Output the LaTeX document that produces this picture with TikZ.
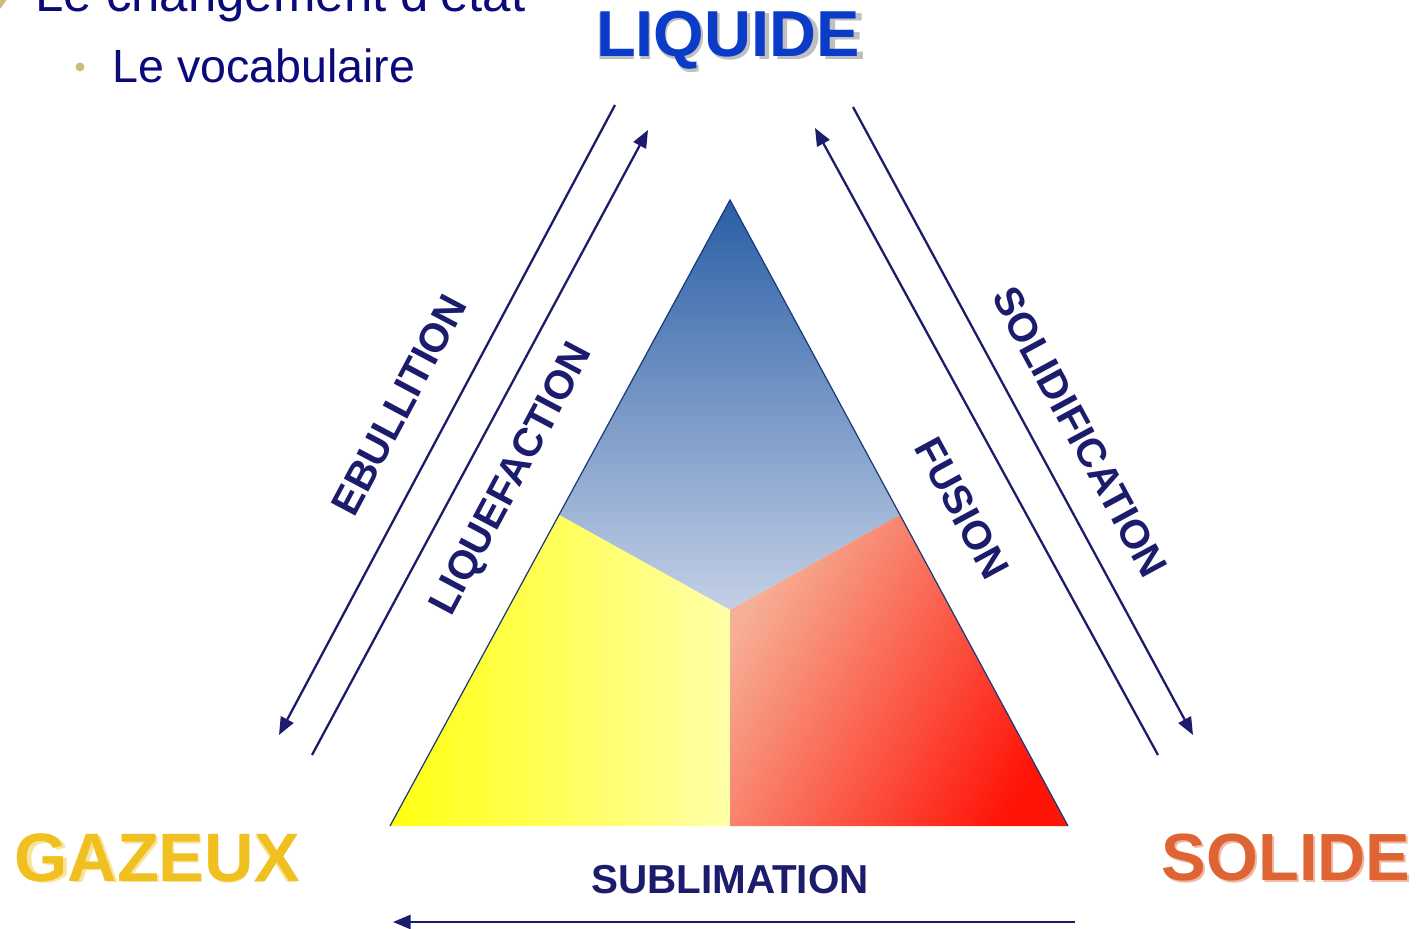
\documentclass[tikz,border=0pt]{standalone}
\usepackage{fontspec}
\setmainfont{Liberation Sans}
\usetikzlibrary{arrows.meta,calc}
\definecolor{navy}{HTML}{1B1C6C}
\definecolor{titlenavy}{HTML}{0A0A7A}
\definecolor{bullet}{HTML}{C8C078}
\definecolor{liqblue}{HTML}{0A3CC8}
\definecolor{gazgold}{HTML}{F0C020}
\definecolor{solred}{HTML}{DE6434}
\definecolor{bluetop}{HTML}{2A5EA6}
\definecolor{bluebot}{HTML}{C4D0E6}
\definecolor{yelA}{HTML}{FFFF10}
\definecolor{yelB}{HTML}{FFFFA8}
\definecolor{redA}{HTML}{F6B096}
\definecolor{redB}{HTML}{FF1408}
\definecolor{edge}{HTML}{1A3A7A}
\tikzset{
  arr/.style={draw=navy, line width=1.3pt, -{Triangle[length=10pt,width=8pt]}},
  proc/.style={text=navy, font=\fontsize{23}{23}\selectfont\bfseries, inner sep=0pt},
  state/.style={font=\fontsize{38}{38}\selectfont\bfseries, inner sep=0pt},
  stateshadow/.style={state, text=black!25},
}
\begin{document}
\begin{tikzpicture}[x=0.02cm, y=-0.02cm]
\useasboundingbox (0,0) rectangle (1423,929);
\fill[white] (0,0) rectangle (1423,929);

% header
\fill[bullet] (0,-2) -- (8,-2) -- (0,9) -- cycle;
\node[anchor=base west, text=titlenavy, font=\fontsize{29}{29}\selectfont, inner sep=0pt] (title) at (35,12) {Le changement d'état};
\fill[bullet] (80,67) circle (4.5);
\node[anchor=base west, text=titlenavy, font=\fontsize{26.5}{26.5}\selectfont, inner sep=0pt] (sub) at (112,83) {Le vocabulaire};

% triangle regions
\coordinate (apex) at (730,200);
\coordinate (bl) at (390,826);
\coordinate (br) at (1068,826);
\coordinate (ml) at ($(apex)!0.503!(bl)$);
\coordinate (mr) at ($(apex)!0.503!(br)$);
\coordinate (mc) at (730,610);
\coordinate (mb) at (730,826);

\shade[top color=bluetop, bottom color=bluebot] (apex) -- (mr) -- (mc) -- (ml) -- cycle;
\shade[left color=yelA, right color=yelB] (ml) -- (mc) -- (mb) -- (bl) -- cycle;
\shade[left color=redA, right color=redB, shading angle=60] (mr) -- (br) -- (mb) -- (mc) -- cycle;
\draw[edge, line width=0.7pt] (bl) -- (apex) -- (br);

% state labels
\node[stateshadow] at (731,43) {LIQUIDE};
\node[state, text=liqblue, font=\fontsize{37}{37}\selectfont\bfseries] (liq) at (728,40) {LIQUIDE};
\node[state, text=gazgold!45] at (159,860) {GAZEUX};
\node[state, text=gazgold, font=\fontsize{39}{39}\selectfont\bfseries] (gaz) at (157,858) {GAZEUX};
\node[state, text=solred!45] at (1288,860) {SOLIDE};
\node[state, text=solred] (sol) at (1286,858) {SOLIDE};

% arrow end points
\coordinate (ebA) at (615,105);
\coordinate (ebB) at (279,735);
\coordinate (lqA) at (312,755);
\coordinate (lqB) at (648,130);
\coordinate (fuA) at (1158,755);
\coordinate (fuB) at (815,128);
\coordinate (soA) at (853,107);
\coordinate (soB) at (1193,735);
\coordinate (suA) at (1075,922);
\coordinate (suB) at (393,922);

\draw[arr] (ebA) -- (ebB);
\draw[arr] (lqA) -- (lqB);
\draw[arr] (fuA) -- (fuB);
\draw[arr] (soA) -- (soB);
\draw[arr] (suA) -- (suB);

% process labels
\node[proc, rotate=62] (eb) at (399,405) {EBULLITION};
\node[proc, rotate=62] (lq) at (513,480) {LIQUEFACTION};
\node[proc, rotate=-61.6] (so) at (1080,432) {SOLIDIFICATION};
\node[proc, rotate=-61.6] (fu) at (962,508) {FUSION};
\node[proc] (su) at (730,880) {SUBLIMATION};
\end{tikzpicture}
\end{document}
